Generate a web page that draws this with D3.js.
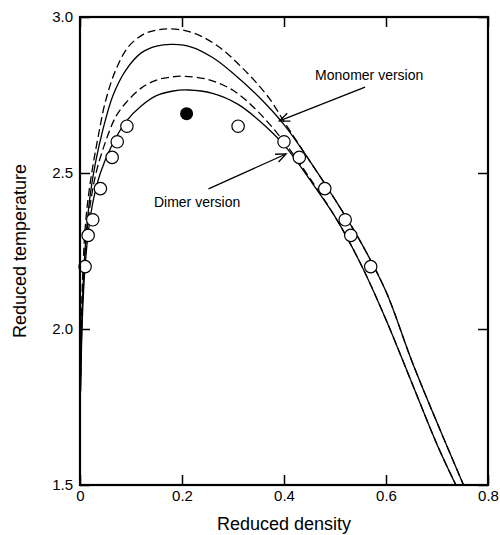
<!DOCTYPE html>
<html>
<head>
<meta charset="utf-8">
<script src="https://cdn.jsdelivr.net/npm/d3@7"></script>
<style>
  body { margin: 0; background: #fff; }
  svg { font-family: "Liberation Sans", Arial, sans-serif; }
  .curve { fill: none; stroke: #000; stroke-width: 1.3px; }
  .dashed { stroke-dasharray: 8 4; }
  .pt { fill: #fff; stroke: #000; stroke-width: 1.2px; }
</style>
</head>
<body>
<svg id="chart" width="500" height="535"></svg>
<script>
// simulation points (reduced density, reduced temperature)
const simRho = [0.010, 0.016, 0.025, 0.040, 0.063, 0.073, 0.092, 0.310, 0.400, 0.430, 0.480, 0.520, 0.531, 0.570];
const simT   = [2.20, 2.30, 2.35, 2.45, 2.55, 2.60, 2.65, 2.65, 2.60, 2.55, 2.45, 2.35, 2.30, 2.20];

// critical point (filled)
const critRho = [0.209];
const critT   = [2.69];

// monomer version, solid
const monoSolidRho = [0.001, 0.004, 0.008, 0.013, 0.02, 0.03, 0.045, 0.065, 0.09, 0.12, 0.15, 0.183, 0.22, 0.26, 0.30, 0.35, 0.40, 0.45, 0.50, 0.55, 0.60, 0.65, 0.70, 0.752];
const monoSolidT   = [1.80, 2.05, 2.20, 2.32, 2.43, 2.53, 2.64, 2.75, 2.83, 2.885, 2.907, 2.912, 2.903, 2.87, 2.82, 2.745, 2.655, 2.54, 2.415, 2.28, 2.12, 1.90, 1.70, 1.50];

// monomer version, dashed
const monoDashRho = [0.001, 0.003, 0.006, 0.01, 0.016, 0.025, 0.036, 0.05, 0.07, 0.095, 0.125, 0.15, 0.176, 0.21, 0.242, 0.28, 0.31, 0.34, 0.373, 0.40, 0.45, 0.50, 0.55, 0.60, 0.65, 0.70, 0.752];
const monoDashT   = [1.85, 2.05, 2.20, 2.32, 2.42, 2.52, 2.62, 2.73, 2.83, 2.905, 2.945, 2.958, 2.962, 2.955, 2.935, 2.895, 2.85, 2.80, 2.735, 2.665, 2.54, 2.415, 2.28, 2.12, 1.90, 1.70, 1.50];

// dimer version, solid
const dimerSolidRho = [0.001, 0.005, 0.01, 0.017, 0.027, 0.04, 0.06, 0.09, 0.12, 0.15, 0.18, 0.212, 0.26, 0.31, 0.35, 0.40, 0.45, 0.50, 0.55, 0.60, 0.65, 0.70, 0.737];
const dimerSolidT   = [1.80, 2.05, 2.20, 2.32, 2.42, 2.50, 2.58, 2.665, 2.715, 2.748, 2.762, 2.766, 2.755, 2.72, 2.67, 2.59, 2.48, 2.36, 2.21, 2.03, 1.83, 1.63, 1.50];

// dimer version, dashed
const dimerDashRho = [0.001, 0.004, 0.008, 0.014, 0.022, 0.033, 0.05, 0.07, 0.09, 0.12, 0.15, 0.18, 0.206, 0.25, 0.30, 0.35, 0.40, 0.45, 0.50, 0.55, 0.60, 0.65, 0.70, 0.737];
const dimerDashT   = [1.85, 2.05, 2.20, 2.32, 2.42, 2.51, 2.60, 2.68, 2.725, 2.772, 2.798, 2.808, 2.81, 2.80, 2.765, 2.695, 2.60, 2.485, 2.36, 2.21, 2.03, 1.83, 1.63, 1.50];

const xTicks = [0, 0.2, 0.4, 0.6, 0.8];
const yTicks = [1.5, 2.0, 2.5, 3.0];

// annotation: label, text anchor, arrow tail, arrow tip (data units)
const notes = [
    {label: 'Monomer version', text: [0.461, 2.798], tail: [0.559, 2.775], tip: [0.391, 2.667]},
    {label: 'Dimer version', text: [0.145, 2.391], tail: [0.252, 2.449], tip: [0.404, 2.561]},
];

const svg = d3.select('#chart');
const plotL = 80, plotR = 488, plotT = 17, plotB = 485;

const x = d3.scaleLinear().domain([0, 0.8]).range([plotL, plotR]);
const y = d3.scaleLinear().domain([1.5, 3.0]).range([plotB, plotT]);

svg.append('clipPath').attr('id', 'plot-clip')
    .append('rect')
    .attr('x', plotL).attr('y', plotT)
    .attr('width', plotR - plotL).attr('height', plotB - plotT);

function zip(a, b) { return a.map((v, i) => [v, b[i]]); }

const line = d3.line()
    .x(d => x(d[0]))
    .y(d => y(d[1]))
    .curve(d3.curveCatmullRom.alpha(0.5));

const curves = [
    {pts: zip(monoDashRho, monoDashT), dashed: true},
    {pts: zip(monoSolidRho, monoSolidT), dashed: false},
    {pts: zip(dimerDashRho, dimerDashT), dashed: true},
    {pts: zip(dimerSolidRho, dimerSolidT), dashed: false},
];

const g = svg.append('g').attr('clip-path', 'url(#plot-clip)');
g.selectAll('.curve')
    .data(curves)
    .enter()
    .append('path')
    .attr('class', d => d.dashed ? 'curve dashed' : 'curve')
    .attr('d', d => line(d.pts));

// open circles
svg.selectAll('.pt')
    .data(zip(simRho, simT))
    .enter()
    .append('circle')
    .attr('class', 'pt')
    .attr('cx', d => x(d[0]))
    .attr('cy', d => y(d[1]))
    .attr('r', 6.2);

// filled critical point
svg.selectAll('.crit')
    .data(zip(critRho, critT))
    .enter()
    .append('circle')
    .attr('class', 'crit')
    .attr('cx', d => x(d[0]))
    .attr('cy', d => y(d[1]))
    .attr('r', 6.5)
    .attr('fill', '#000');

// axes, ticks pointing inward on all sides
const fmtX = d => d === 0 ? '0' : d3.format('.1f')(d);
const fmtY = d3.format('.1f');

function styleAxis(sel) {
    sel.select('.domain').remove();
    sel.selectAll('.tick line').attr('stroke', '#000').attr('stroke-width', 1.5);
    sel.selectAll('.tick text').attr('fill', '#000').style('font-size', '15px').style('font-family', '"Liberation Sans", Arial, sans-serif');
}

svg.append('g')
    .attr('transform', `translate(0,${plotB})`)
    .call(d3.axisBottom(x).tickValues(xTicks).tickFormat(fmtX).tickSizeInner(-10).tickSizeOuter(0).tickPadding(5))
    .call(styleAxis);

svg.append('g')
    .attr('transform', `translate(0,${plotT})`)
    .call(d3.axisTop(x).tickValues(xTicks).tickFormat('').tickSizeInner(-10).tickSizeOuter(0))
    .call(styleAxis);

svg.append('g')
    .attr('transform', `translate(${plotL},0)`)
    .call(d3.axisLeft(y).tickValues(yTicks).tickFormat(fmtY).tickSizeInner(-10).tickSizeOuter(0).tickPadding(7))
    .call(styleAxis);

svg.append('g')
    .attr('transform', `translate(${plotR},0)`)
    .call(d3.axisRight(y).tickValues(yTicks).tickFormat('').tickSizeInner(-10).tickSizeOuter(0))
    .call(styleAxis);

// frame
svg.append('rect')
    .attr('x', plotL).attr('y', plotT)
    .attr('width', plotR - plotL).attr('height', plotB - plotT)
    .attr('fill', 'none').attr('stroke', '#000').attr('stroke-width', 2.2);

// axis titles
svg.append('text')
    .attr('x', (plotL + plotR) / 2).attr('y', 530)
    .attr('text-anchor', 'middle')
    .style('font-size', '18px')
    .text('Reduced density');

svg.append('text')
    .attr('transform', `translate(26,${(plotT + plotB) / 2}) rotate(-90)`)
    .attr('text-anchor', 'middle')
    .style('font-size', '18px')
    .text('Reduced temperature');

// annotations with open arrowheads
const notesG = svg.selectAll('.note').data(notes).enter().append('g').attr('class', 'note');

notesG.append('text')
    .attr('x', d => x(d.text[0]))
    .attr('y', d => y(d.text[1]))
    .style('font-size', '14px')
    .text(d => d.label);

notesG.append('line')
    .attr('x1', d => x(d.tail[0])).attr('y1', d => y(d.tail[1]))
    .attr('x2', d => x(d.tip[0])).attr('y2', d => y(d.tip[1]))
    .attr('stroke', '#000').attr('stroke-width', 1.3);

notesG.append('path')
    .attr('fill', 'none').attr('stroke', '#000').attr('stroke-width', 1.3)
    .attr('d', d => {
        const tx = x(d.tip[0]), ty = y(d.tip[1]);
        const ang = Math.atan2(y(d.tail[1]) - ty, x(d.tail[0]) - tx);
        const len = 11, spread = 0.4;
        const ax = tx + len * Math.cos(ang + spread), ay = ty + len * Math.sin(ang + spread);
        const bx = tx + len * Math.cos(ang - spread), by = ty + len * Math.sin(ang - spread);
        return `M${ax},${ay}L${tx},${ty}L${bx},${by}`;
    });
</script>
</body>
</html>
